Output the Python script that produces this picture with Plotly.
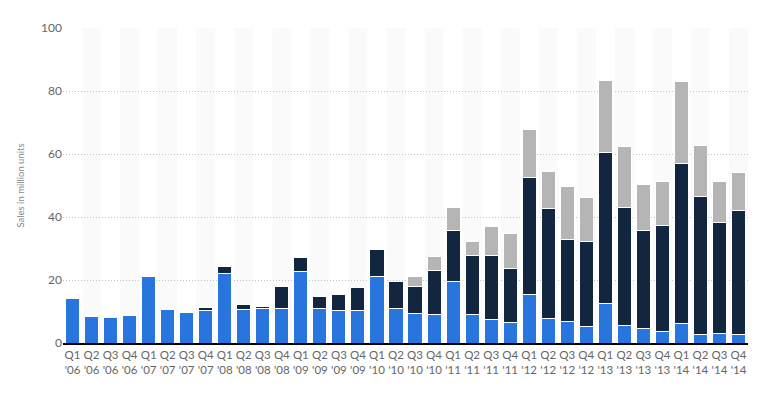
import plotly.graph_objects as go

quarters = ["Q1<br>'06","Q2<br>'06","Q3<br>'06","Q4<br>'06",
            "Q1<br>'07","Q2<br>'07","Q3<br>'07","Q4<br>'07",
            "Q1<br>'08","Q2<br>'08","Q3<br>'08","Q4<br>'08",
            "Q1<br>'09","Q2<br>'09","Q3<br>'09","Q4<br>'09",
            "Q1<br>'10","Q2<br>'10","Q3<br>'10","Q4<br>'10",
            "Q1<br>'11","Q2<br>'11","Q3<br>'11","Q4<br>'11",
            "Q1<br>'12","Q2<br>'12","Q3<br>'12","Q4<br>'12",
            "Q1<br>'13","Q2<br>'13","Q3<br>'13","Q4<br>'13",
            "Q1<br>'14","Q2<br>'14","Q3<br>'14","Q4<br>'14"]

ipod = [14.04, 8.53, 8.11, 8.73, 21.07, 10.55, 9.82, 10.20,
        22.12, 10.64, 11.01, 11.05, 22.73, 11.01, 10.22, 10.18,
        20.97, 10.89, 9.41, 9.05, 19.45, 9.02, 7.54, 6.62,
        15.40, 7.67, 6.75, 5.30, 12.68, 5.63, 4.57, 3.50,
        6.05, 2.76, 2.93, 2.64]

iphone = [0, 0, 0, 0, 0, 0, 0, 1.12,
          2.32, 1.70, 0.72, 6.89, 4.36, 3.79, 5.21, 7.37,
          8.74, 8.75, 8.40, 14.10, 16.24, 18.65, 20.34, 17.07,
          37.04, 35.06, 26.03, 26.91, 47.79, 37.43, 31.24, 33.80,
          51.03, 43.72, 35.20, 39.27]

ipad = [0, 0, 0, 0, 0, 0, 0, 0,
        0, 0, 0, 0, 0, 0, 0, 0,
        0, 0, 3.27, 4.19, 7.33, 4.69, 9.25, 11.12,
        15.43, 11.80, 17.04, 14.04, 22.86, 19.48, 14.62, 14.08,
        26.04, 16.35, 13.28, 12.32]

y_ticks = [0, 20, 40, 60, 80, 100]

x_idx = list(range(len(quarters)))

fig = go.Figure()
for name, vals, color in [("iPod", ipod, "#2876dd"),
                          ("iPhone", iphone, "#12263f"),
                          ("iPad", ipad, "#b5b5b5")]:
    fig.add_trace(go.Bar(
        x=x_idx, y=vals, name=name,
        marker=dict(color=color, line=dict(color="white", width=1)),
    ))

shapes = []
for i in x_idx:
    if i % 2 == 1:
        shapes.append(dict(type="rect", xref="x", yref="paper",
                           x0=i - 0.5, x1=i + 0.5, y0=0, y1=1,
                           fillcolor="#fafafa", line=dict(width=0),
                           layer="below"))

fig.update_layout(
    barmode="stack",
    bargap=0.26,
    width=765, height=393,
    margin=dict(l=54, r=25, t=18, b=58),
    paper_bgcolor="white",
    plot_bgcolor="white",
    showlegend=False,
    shapes=shapes,
    font=dict(family="Lato, Open Sans, sans-serif", color="#666666", size=11),
    xaxis=dict(
        tickmode="array", tickvals=x_idx, ticktext=quarters,
        range=[-0.5, len(quarters) - 0.5],
        showgrid=False, showline=True, linecolor="#000000", linewidth=1.5,
        ticks="", tickfont=dict(size=11.5, color="#666666"),
        zeroline=False,
    ),
    yaxis=dict(
        range=[0, 100], tickvals=y_ticks,
        showgrid=True, gridcolor="#c4c4c4", griddash="1px,2px", gridwidth=1,
        zeroline=False, showline=False, ticks="",
        tickfont=dict(size=12, color="#666666"),
        title=dict(text="Sales in million units",
                   font=dict(size=9.5, color="#888888"), standoff=14),
    ),
)

fig.write_html("out.html")
